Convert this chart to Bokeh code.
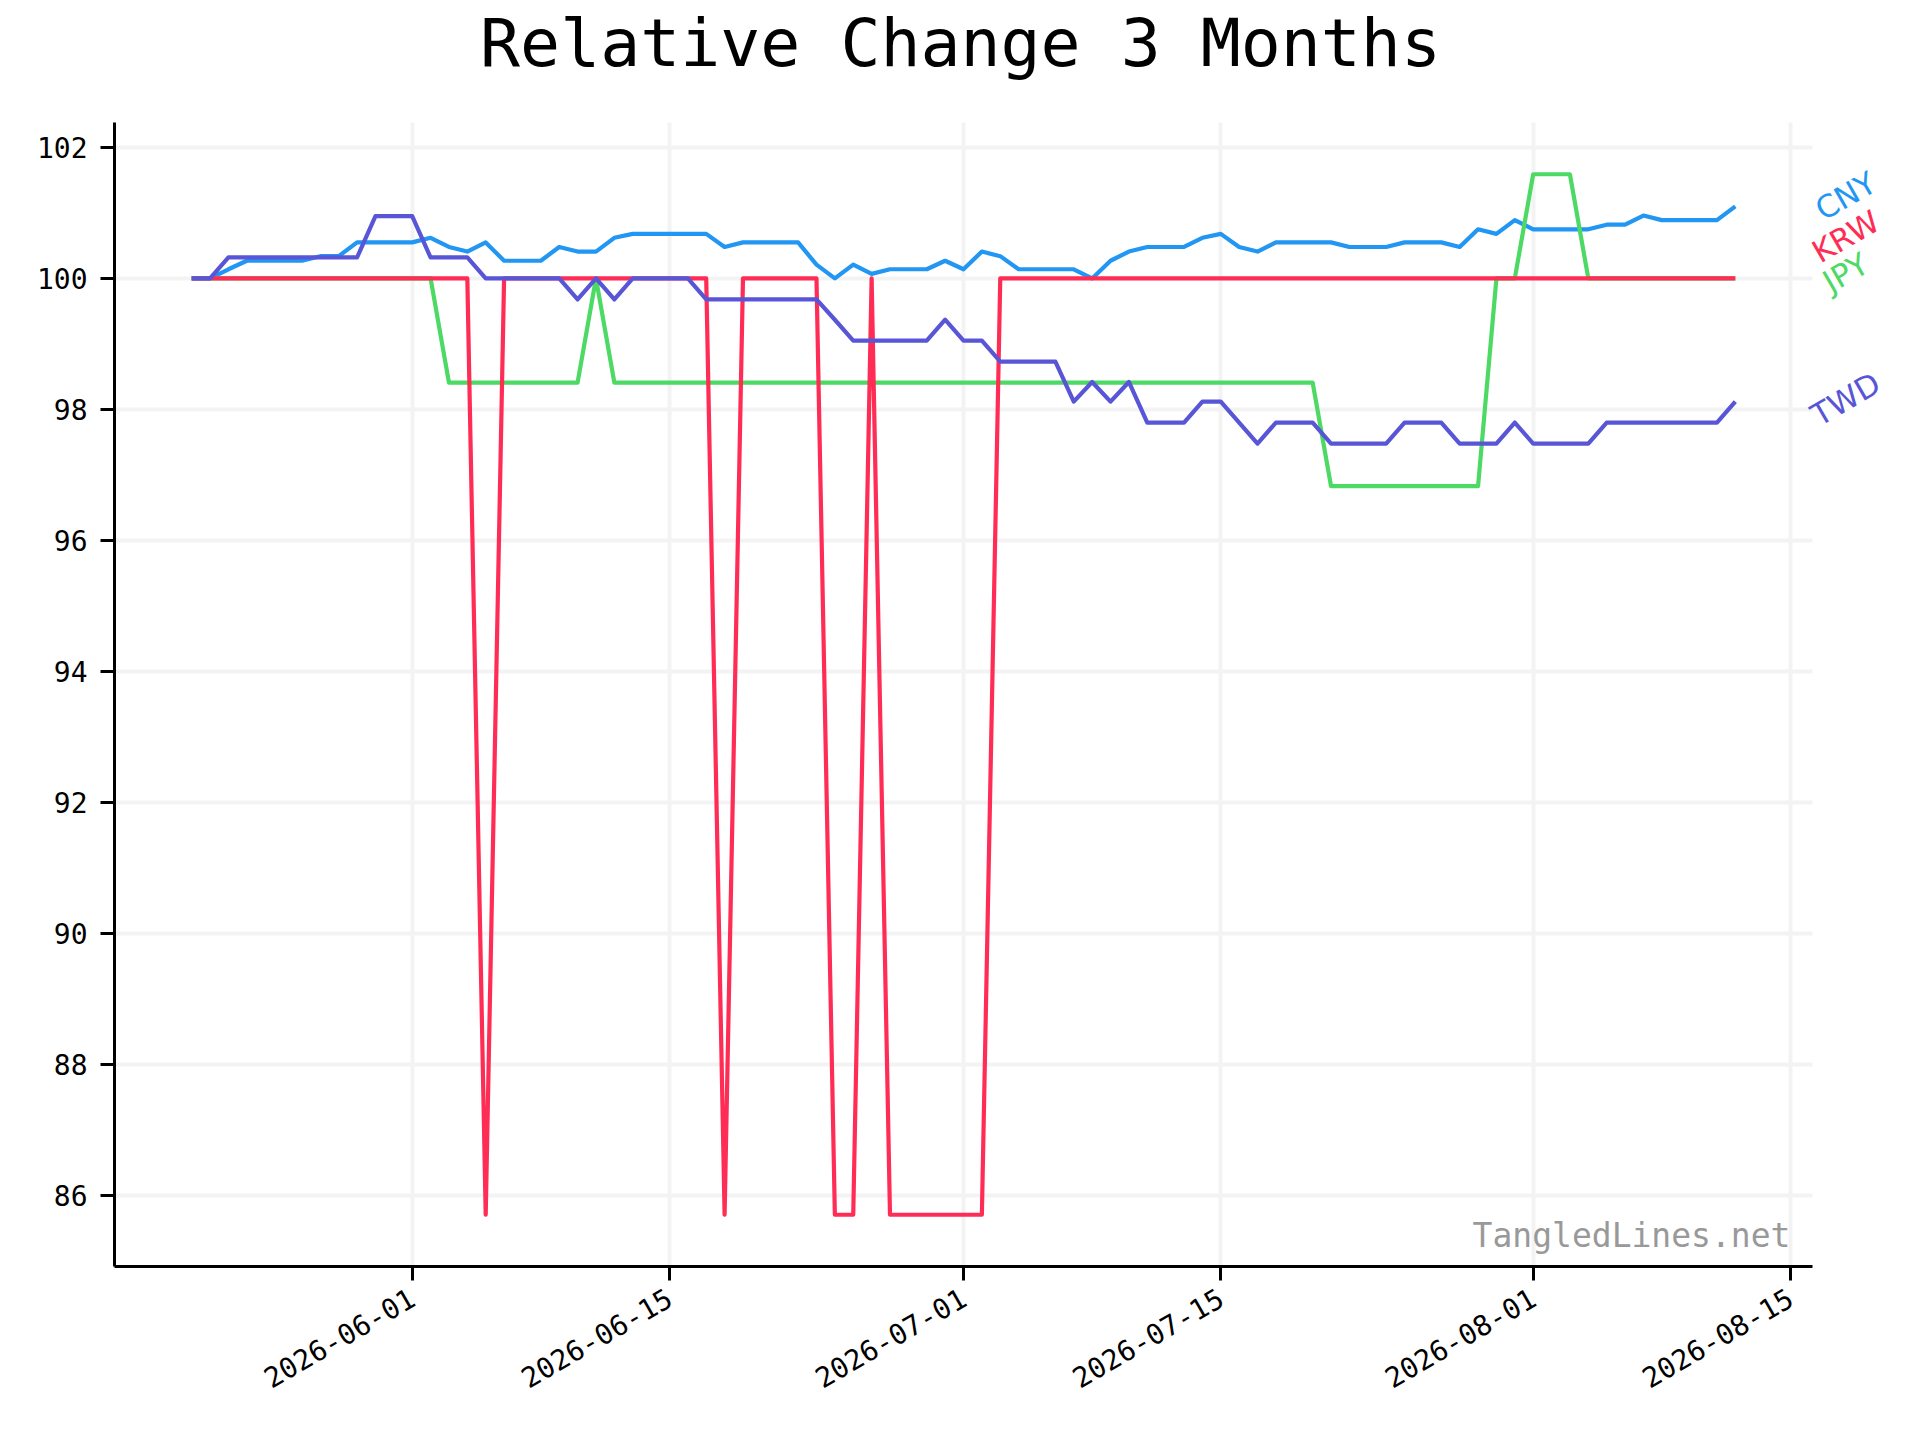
import math
from datetime import datetime, timedelta

from bokeh.plotting import figure
from bokeh.models import Range1d, FixedTicker, DatetimeTickFormatter, Label, Grid
from bokeh.embed import file_html
from bokeh.resources import INLINE

# ---------------- data ----------------
first_day = datetime(2026, 5, 20)
n_days = 85
dates = [first_day + timedelta(days=i) for i in range(n_days)]

CNY = [100.00, 100.00, 100.14, 100.27, 100.27, 100.27, 100.27, 100.34, 100.34, 100.55,
       100.55, 100.55, 100.55, 100.62, 100.48, 100.41, 100.55, 100.27, 100.27, 100.27,
       100.48, 100.41, 100.41, 100.62, 100.68, 100.68, 100.68, 100.68, 100.68, 100.48,
       100.55, 100.55, 100.55, 100.55, 100.21, 100.00, 100.21, 100.07, 100.14, 100.14,
       100.14, 100.27, 100.14, 100.41, 100.34, 100.14, 100.14, 100.14, 100.14, 100.00,
       100.27, 100.41, 100.48, 100.48, 100.48, 100.62, 100.68, 100.48, 100.41, 100.55,
       100.55, 100.55, 100.55, 100.48, 100.48, 100.48, 100.55, 100.55, 100.55, 100.48,
       100.75, 100.68, 100.89, 100.75, 100.75, 100.75, 100.75, 100.82, 100.82, 100.96,
       100.89, 100.89, 100.89, 100.89, 101.10]

JPY = [100.00] * 14 + [98.41] * 8 + [100.00] + [98.41] * 39 + [96.83] * 9 \
    + [100.00] * 2 + [101.59] * 3 + [100.00] * 9

KRW = [100.00, 100.00, 100.00, 100.00, 100.00, 100.00, 100.00, 100.00, 100.00, 100.00,
       100.00, 100.00, 100.00, 100.00, 100.00, 100.00, 85.71, 100.00, 100.00, 100.00,
       100.00, 100.00, 100.00, 100.00, 100.00, 100.00, 100.00, 100.00, 100.00, 85.71,
       100.00, 100.00, 100.00, 100.00, 100.00, 85.71, 85.71, 100.00, 85.71, 85.71,
       85.71, 85.71, 85.71, 85.71, 100.00, 100.00, 100.00, 100.00, 100.00, 100.00,
       100.00, 100.00, 100.00, 100.00, 100.00, 100.00, 100.00, 100.00, 100.00, 100.00,
       100.00, 100.00, 100.00, 100.00, 100.00, 100.00, 100.00, 100.00, 100.00, 100.00,
       100.00, 100.00, 100.00, 100.00, 100.00, 100.00, 100.00, 100.00, 100.00, 100.00,
       100.00, 100.00, 100.00, 100.00, 100.00]

TWD = [100.00, 100.00, 100.32, 100.32, 100.32, 100.32, 100.32, 100.32, 100.32, 100.32,
       100.95, 100.95, 100.95, 100.32, 100.32, 100.32, 100.00, 100.00, 100.00, 100.00,
       100.00, 99.68, 100.00, 99.68, 100.00, 100.00, 100.00, 100.00, 99.68, 99.68,
       99.68, 99.68, 99.68, 99.68, 99.68, 99.37, 99.05, 99.05, 99.05, 99.05,
       99.05, 99.37, 99.05, 99.05, 98.73, 98.73, 98.73, 98.73, 98.12, 98.42,
       98.12, 98.42, 97.80, 97.80, 97.80, 98.12, 98.12, 97.80, 97.48, 97.80,
       97.80, 97.80, 97.48, 97.48, 97.48, 97.48, 97.80, 97.80, 97.80, 97.48,
       97.48, 97.48, 97.80, 97.48, 97.48, 97.48, 97.48, 97.80, 97.80, 97.80,
       97.80, 97.80, 97.80, 97.80, 98.12]

series_names = ["CNY", "JPY", "KRW", "TWD"]          # drawing order
series_values = {"CNY": CNY, "JPY": JPY, "KRW": KRW, "TWD": TWD}
series_colors = {"CNY": "#2196F3", "JPY": "#4CD964", "KRW": "#FF2D55", "TWD": "#5856D6"}

# end-of-line labels (heights after de-overlapping)
label_names = ["CNY", "KRW", "JPY", "TWD"]
label_y = [101.26, 100.64, 100.09, 98.16]

x_tick_labels = ["2026-06-01", "2026-06-15", "2026-07-01", "2026-07-15", "2026-08-01", "2026-08-15"]
y_ticks = [86, 88, 90, 92, 94, 96, 98, 100, 102]

title_text = "Relative Change 3 Months"
watermark = "TangledLines.net"

# ---------------- helpers ----------------
EPOCH = datetime(1970, 1, 1)


def ms(d):
    return (d - EPOCH).total_seconds() * 1000.0


# ---------------- layout (pixels) ----------------
CANVAS_W, CANVAS_H = 1904, 1424
LEFT = 114            # left edge of the axes box
AXES_W = 1698         # width of the axes box
AXES_TOP = 122        # top of the axes box
AXES_H = 1144         # height of the axes box
FRAME_W = CANVAS_W - LEFT          # frame runs to the right edge (room for labels)
FRAME_H = AXES_TOP + AXES_H        # frame runs to the top edge (room for title)
BOTTOM = CANVAS_H - FRAME_H

# axes data limits (matplotlib-like 5% margins)
pad = timedelta(days=4.2)
x0, x1 = ms(dates[0] - pad), ms(dates[-1] + pad)
y0, y1 = 84.92, 102.38
x_per_px = (x1 - x0) / AXES_W
y_per_px = (y1 - y0) / AXES_H

p = figure(
    width=CANVAS_W, height=CANVAS_H,
    x_axis_type="datetime",
    x_range=Range1d(start=x0, end=x0 + FRAME_W * x_per_px),
    y_range=Range1d(start=y0, end=y1 + AXES_TOP * y_per_px),
    output_backend="svg", toolbar_location=None,
    min_border_left=LEFT, min_border_right=0,
    min_border_top=0, min_border_bottom=BOTTOM,
)
p.outline_line_color = None
p.background_fill_color = "white"
p.border_fill_color = "white"

xt = FixedTicker(ticks=[ms(datetime.strptime(s, "%Y-%m-%d")) for s in x_tick_labels])
yt = FixedTicker(ticks=y_ticks)
p.xaxis.ticker = xt
p.xgrid.ticker = xt
p.yaxis.ticker = yt
p.ygrid.ticker = yt
p.xaxis.bounds = (x0, x1)
p.yaxis.bounds = (y0, y1)

fmt = "%Y-%m-%d"
p.xaxis.formatter = DatetimeTickFormatter(
    microseconds=fmt, milliseconds=fmt, seconds=fmt, minsec=fmt, minutes=fmt,
    hourmin=fmt, hours=fmt, days=fmt, months=fmt, years=fmt)
p.xaxis.major_label_orientation = math.pi / 6

for ax in (p.xaxis[0], p.yaxis[0]):
    ax.axis_line_color = "black"
    ax.axis_line_width = 3
    ax.major_tick_line_color = "black"
    ax.major_tick_line_width = 3
    ax.major_tick_out = 14
    ax.major_tick_in = 0
    ax.minor_tick_out = 0
    ax.minor_tick_in = 0
    ax.major_label_text_font = "DejaVu Sans Mono"
    ax.major_label_text_font_size = "28px"
    ax.major_label_text_color = "black"
    ax.major_label_standoff = 13
p.xaxis.major_label_standoff = 15

for g in (p.xgrid[0], p.ygrid[0]):
    g.grid_line_color = "#f3f3f3"
    g.grid_line_width = 4

if "cross_bounds" in Grid.properties():
    p.xgrid[0].cross_bounds = (y0, y1)
    p.ygrid[0].cross_bounds = (x0, x1)

for name in series_names:
    p.line(dates, series_values[name], line_color=series_colors[name],
           line_width=4.2, line_join="round")

# title, centred over the axes box
p.add_layout(Label(
    x=(x0 + x1) / 2 - 3 * x_per_px, y=y1 + 80 * y_per_px, text=title_text,
    text_align="center", text_baseline="middle",
    text_font="DejaVu Sans Mono", text_font_size="66.5px",
    text_color="black"))

# end-of-line labels
label_x = ms(dates[-1] + timedelta(days=6))
for name, ly in zip(label_names, label_y):
    p.add_layout(Label(
        x=label_x, y=ly, text=name, angle=math.pi / 6,
        text_align="center", text_baseline="middle",
        text_font="DejaVu Sans", text_font_size="31px",
        text_color=series_colors[name]))

# watermark
p.add_layout(Label(
    x=ms(datetime(2026, 8, 15)), y=85.40, text=watermark,
    text_align="right", text_baseline="middle",
    text_font="DejaVu Sans Mono", text_font_size="33px",
    text_color="#999999"))

open("out.html", "w").write(file_html(p, INLINE))
